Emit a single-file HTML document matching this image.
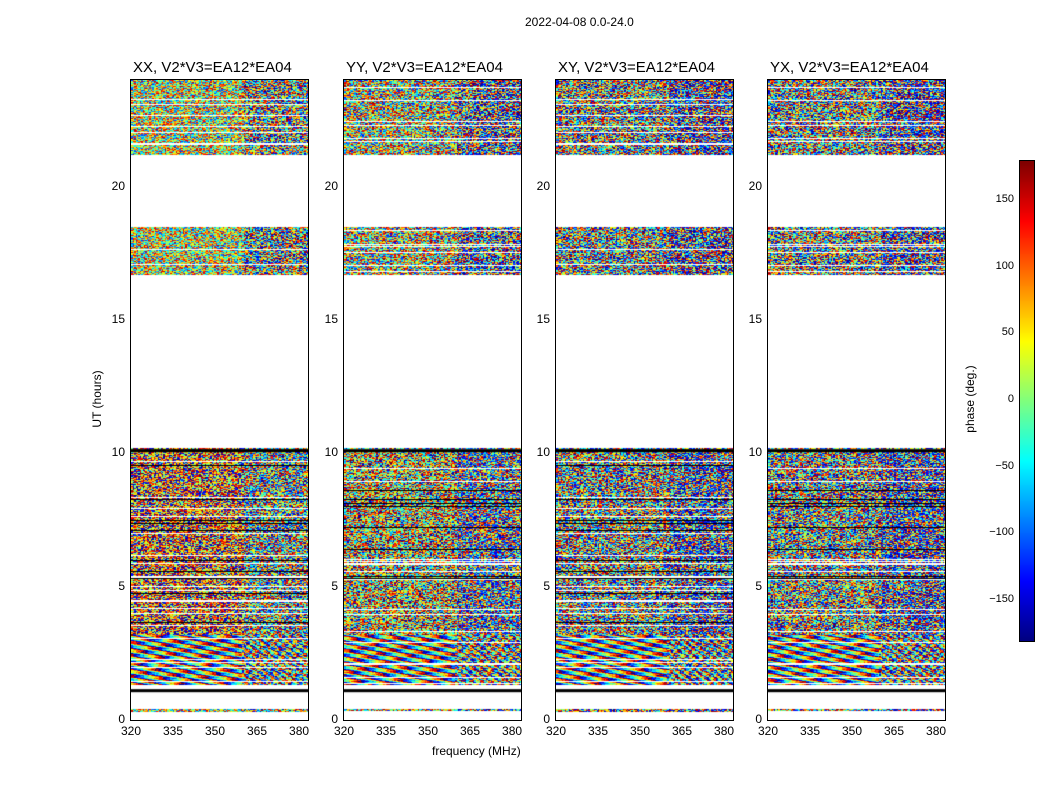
<!DOCTYPE html>
<html><head><meta charset="utf-8"><style>
body{margin:0;background:#fff;font-family:"Liberation Sans",sans-serif;}
#root{position:relative;width:1050px;height:800px;overflow:hidden;}
.t{position:absolute;font-size:12px;color:#000;white-space:nowrap}
.ti{position:absolute;font-size:15px;white-space:nowrap}
canvas{position:absolute}
</style></head><body><div id="root">
<div class="t" style="left:525px;top:15px">2022-04-08 0.0-24.0</div>
<div class="t" style="left:432px;top:744px">frequency (MHz)</div>
<div class="t" style="left:57px;top:392px;transform:rotate(-90deg);width:80px;text-align:center">UT (hours)</div>
<div class="t" style="left:930px;top:392px;transform:rotate(-90deg);width:80px;text-align:center">phase (deg.)</div>
<canvas id="cb" width="14" height="480" style="left:1019px;top:160px;border:1px solid #000"></canvas>
</div>
<script>
const panelTitles=["XX, V2*V3=EA12*EA04","YY, V2*V3=EA12*EA04","XY, V2*V3=EA12*EA04","YX, V2*V3=EA12*EA04"];
const panelLefts=[131,344,556,768];
const yTicks=[0,5,10,15,20];
const xTicks=[320,335,350,365,380];
const cbTicks=[150,100,50,0,-50,-100,-150];
const bandStarts=[0.3,1.3,16.7,21.2];
const bandEnds=[0.4,10.2,18.5,24.0];
const blackLines=[1.1,10.1];
const fringeStart=1.3, fringeEnd=3.2;
const lowBias=[110,60,40,40];
const upBias=[20,20,30,30];
const spread=[140,160,180,180];

const X0=320,X1=383.2,Y0=80,Y1=720,W=177;
const root=document.getElementById('root');
function jet(v){
 const r=Math.min(Math.max(Math.min(4*v-1.5,-4*v+4.5),0),1);
 const g=Math.min(Math.max(Math.min(4*v-0.5,-4*v+3.5),0),1);
 const b=Math.min(Math.max(Math.min(4*v+0.5,-4*v+2.5),0),1);
 return [r*255|0,g*255|0,b*255|0];}
function hash(a,b,c){let h=(a*374761393+b*668265263+c*2147483647)|0;h=(h^(h>>>13))*1274126177;h=h^(h>>>16);return ((h>>>0)%10000)/10000;}
const yPix=h=>Y1-(h/24)*(Y1-Y0);
const fx=f=>(f-X0)/(X1-X0)*W;
function txt(s,x,y,cls,name){const d=document.createElement('div');d.className=cls;d.textContent=s;d.style.left=x+'px';d.style.top=y+'px';


root.appendChild(d);return d;}
panelLefts.forEach((L,p)=>{
 const c=document.createElement('canvas');c.width=W;c.height=640;c.style.left=L+'px';c.style.top=Y0+'px';c.style.outline='1px solid #000';
 
 
 root.appendChild(c);
 const ctx=c.getContext('2d');const img=ctx.createImageData(W,640);
 const NCH=128;
 for(let py=0;py<640;py++){
  const h=24-(py+0.5)/640*24;
  let bi=-1;for(let i=0;i<bandStarts.length;i++)if(h>=bandStarts[i]&&h<=bandEnds[i])bi=i;
  let rowType=0;
  if(bi>=0){const r=hash(py,7,p%2);rowType=r<0.07?1:(r<0.14&&bi==1&&h>3.2?2:0);}
  for(let px=0;px<W;px++){
   const k=(py*W+px)*4;let col=[255,255,255];
   if(bi>=0&&rowType!=1){
    if(rowType==2)col=[0,0,0];else{
    const ch=Math.floor(px/W*NCH);
    const n=hash(ch,py,p)-0.5;
    const bias=(bi==1)?lowBias[p]:upBias[p];
    let ph;
    if(h>=fringeStart&&h<=fringeEnd){
      const w=ch<80?1:2.6;
      ph=(ch*22*w+h*1400+60*Math.sin(h*40+ch*0.15)+p*60)+n*(ch<80?70:200);}
    else ph=bias+n*2*spread[p]*(ch>80?1.3:1);
    ph=((ph+180)%360+360)%360;col=jet(ph/360);}
   }
   img.data[k]=col[0];img.data[k+1]=col[1];img.data[k+2]=col[2];img.data[k+3]=255;
  }
 }
 ctx.putImageData(img,0,0);
 ctx.fillStyle='#000';blackLines.forEach(b=>{ctx.fillRect(0,yPix(b)-Y0-1.5,W,3);});
 txt(panelTitles[p],L+2,59,'ti','panel-title-'+(p+1));
 yTicks.forEach(t=>{const y=yPix(t);const d=txt(String(t),L-26,y-8,'t','y-tick-label');d.style.width='20px';d.style.textAlign='right';});
 xTicks.forEach(t=>{const x=L+fx(t);const d=txt(String(t),x-12,724,'t','x-tick-label');d.style.width='24px';d.style.textAlign='center';});
});
const cb=document.getElementById('cb').getContext('2d');
for(let y=0;y<480;y++){const c=jet(1-y/480);cb.fillStyle=`rgb(${c})`;cb.fillRect(0,y,14,1);}
cbTicks.forEach(t=>{const y=160+(180-t)/360*480;const s=t<0?'\u2212'+(-t):String(t);
 const d=txt(s,978,y-7,'t','colorbar-tick-label');d.style.fontSize='11px';d.style.width='36px';d.style.textAlign='right';});
</script></body></html>
